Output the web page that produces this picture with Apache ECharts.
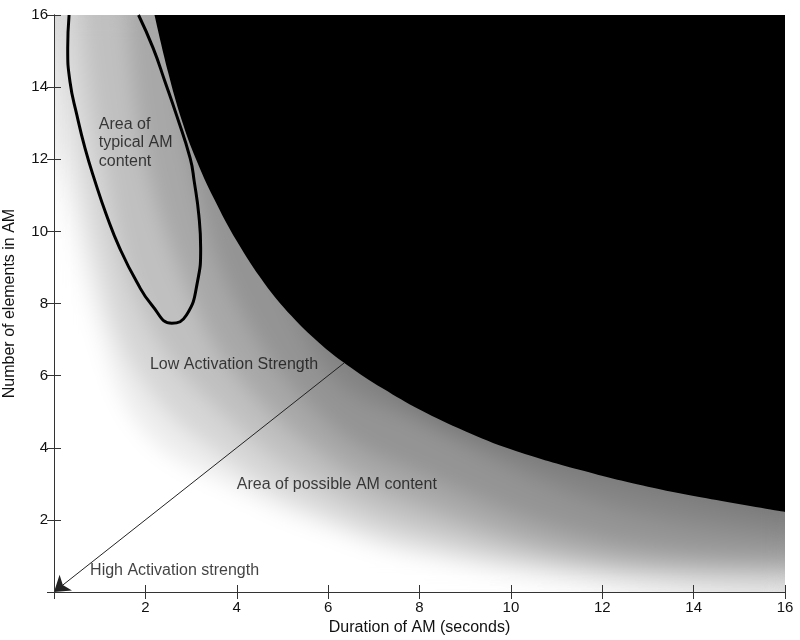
<!DOCTYPE html>
<html>
<head>
<meta charset="utf-8">
<script src="https://cdn.jsdelivr.net/npm/echarts@6/dist/echarts.min.js"></script>
<style>
  html, body { margin: 0; padding: 0; background: #fff; }
  #chart { width: 800px; height: 640px; }
</style>
</head>
<body>
<!-- blur, then push alpha back to 1 so the plot edge does not fade to white -->
<svg width="0" height="0" style="position:absolute">
  <defs>
    <filter id="soft" x="0" y="0" width="100%" height="100%" color-interpolation-filters="sRGB">
      <feGaussianBlur stdDeviation="10"/>
      <feComponentTransfer><feFuncA type="linear" slope="40" intercept="0"/></feComponentTransfer>
    </filter>
  </defs>
</svg>
<div id="chart"></div>
<script>
// iso-grey contours; each one is filled up to y = 16
const grey240 = [[0, 12.5], [0.1, 12], [1, 7.2], [2, 4.4], [4, 2.85], [6, 1.75], [8, 0.95], [12, 0.24], [16, 0.03]];
const grey220 = [[0, 16.3], [1, 9], [2, 5.75], [4, 3.5], [6, 2.15], [8, 1.3], [12, 0.45], [16, 0.2]];
const grey200 = [[0.6, 16], [1, 12.5], [2, 7.6], [4, 4.6], [6, 2.85], [8, 1.8], [12, 0.7], [16, 0.43]];
const grey180 = [[1.6, 16], [2, 12], [3, 8.2], [4, 6], [6, 3.7], [8, 2.45], [12, 1.0], [16, 0.69]];
const grey160 = [[2.6, 16], [3, 12], [4, 8], [6, 4.7], [8, 3.3], [12, 1.5], [16, 1.05]];
const grey140 = [[4.6, 10], [6, 6.1], [8, 4.7], [12, 2.45], [16, 1.6]];
const grey128 = [[6, 7.2], [8, 5.0], [10, 3.95], [12, 3.2], [16, 2.1]];

// edge of the black region
const blackEdge = [[2.2, 16], [2.5, 14.4], [2.8, 13.07], [3.1, 12.03], [3.5, 10.91], [4.0, 9.73],
  [4.6, 8.57], [5.2, 7.65], [5.8, 6.91], [6.4, 6.31], [7.2, 5.64], [8.0, 5.06], [9.0, 4.46],
  [10.0, 3.96], [11.5, 3.39], [13.0, 2.92], [14.5, 2.55], [16, 2.22]];

// "typical AM content" ellipse (clipped by the top of the plot)
const ellipse = [[0.33, 16], [0.30, 15.08], [0.35, 14.15], [0.50, 13.23], [0.68, 12.3], [0.90, 11.38],
  [1.15, 10.45], [1.44, 9.53], [1.81, 8.6], [2.14, 7.96], [2.58, 7.45], [2.90, 7.68], [3.14, 8.6],
  [3.21, 9.53], [3.17, 10.45], [3.07, 11.38], [2.98, 12.03], [2.68, 13.23], [2.43, 14.15],
  [2.17, 15.08], [1.85, 16]];

const arrowFrom = [6.35, 6.35];
const arrowTo = [0, 0];

const notes = [
  { text: "Area of\ntypical AM\ncontent", at: [0.98, 12.45] },
  { text: "Low Activation Strength", at: [2.1, 6.3] },
  { text: "Area of possible AM content", at: [4.0, 2.97] },
  { text: "High Activation strength", at: [0.79, 0.58] }
];

const FONT = "Liberation Sans";

const greyLayers = [
  [grey240, "#ededed"],
  [grey220, "#d6d6d6"],
  [grey200, "#c0c0c0"],
  [grey180, "#a8a8a8"],
  [grey160, "#949494"],
  [grey140, "#848484"],
  [grey128, "#787878"]
];

// bands live on zlevel 0, which gets blurred afterwards to turn them into a gradient
function band(data, color, zlevel) {
  return {
    type: "line",
    zlevel: zlevel,
    z: 1,
    data: data,
    smooth: 0.4,
    showSymbol: false,
    silent: true,
    lineStyle: { width: 0 },
    areaStyle: { origin: "end", color: color, opacity: 1 }
  };
}

const series = greyLayers.map(function (l) { return band(l[0], l[1], 0); });
series.push(band(blackEdge, "#000000", 1));

series.push({
  type: "line",
  zlevel: 1,
  z: 5,
  data: ellipse,
  smooth: 0.5,
  showSymbol: false,
  silent: true,
  lineStyle: { color: "#000", width: 3 },
  markLine: {
    zlevel: 1,
    z: 5,
    silent: true,
    symbol: ["none", "arrow"],
    symbolSize: 15,
    label: { show: false },
    lineStyle: { color: "#222", width: 1, type: "solid" },
    data: [[{ coord: arrowFrom }, { coord: arrowTo }]]
  }
});

series.push({
  type: "scatter",
  zlevel: 1,
  z: 6,
  symbolSize: 0,
  silent: true,
  itemStyle: { color: "transparent" },
  label: {
    show: true,
    position: "right",
    distance: 0,
    color: "#111",
    fontFamily: FONT,
    fontSize: 16,
    lineHeight: 18.5,
    formatter: function (p) { return p.data.name; }
  },
  labelLayout: { hideOverlap: false },
  data: notes.map(function (n) { return { name: n.text, value: n.at }; })
});

const axisLineStyle = { color: "#333", width: 1 };
const tickFont = { fontFamily: FONT, fontSize: 15, color: "#111" };

function frameAxis(pos) {
  return {
    type: "value", min: 0, max: 16, interval: 2, position: pos, zlevel: 1, z: 10,
    axisLine: { show: true, lineStyle: axisLineStyle },
    axisTick: { inside: true, length: 7, lineStyle: axisLineStyle },
    axisLabel: { show: false },
    splitLine: { show: false }
  };
}

const chart = echarts.init(document.getElementById("chart"));
chart.setOption({
  animation: false,
  backgroundColor: "transparent",
  grid: {
    left: 54, right: 15, top: 15, bottom: 48, outerBoundsMode: "none", containLabel: false,
    show: true, backgroundColor: "#fff", borderWidth: 0, zlevel: 0, z: 0
  },
  xAxis: [
    {
      type: "value", min: 0, max: 16, interval: 2, zlevel: 1, z: 10,
      name: "Duration of AM (seconds)", nameLocation: "middle", nameGap: 28,
      nameTextStyle: { fontFamily: FONT, fontSize: 16, color: "#111" },
      axisLine: { show: true, lineStyle: axisLineStyle },
      axisTick: { inside: true, length: 7, lineStyle: axisLineStyle },
      axisLabel: Object.assign({ margin: 8, formatter: function (v) { return v === 0 ? "" : v; } }, tickFont),
      splitLine: { show: false }
    },
    frameAxis("top")
  ],
  yAxis: [
    {
      type: "value", min: 0, max: 16, interval: 2, zlevel: 1, z: 10,
      name: "Number of elements in AM", nameLocation: "middle", nameGap: 36,
      nameTextStyle: { fontFamily: FONT, fontSize: 16, color: "#111" },
      axisLine: { show: true, lineStyle: axisLineStyle },
      axisTick: { inside: true, length: 7, lineStyle: axisLineStyle },
      axisLabel: Object.assign({ margin: 6, formatter: function (v) { return v === 0 ? "" : v; } }, tickFont),
      splitLine: { show: false }
    },
    frameAxis("right")
  ],
  // white margins on the sharp layer hide the blur halo outside the plot
  graphic: [
    { type: "rect", zlevel: 1, z: 0, silent: true, shape: { x: 0, y: 0, width: 54, height: 640 }, style: { fill: "#fff" } },
    { type: "rect", zlevel: 1, z: 0, silent: true, shape: { x: 785, y: 0, width: 15, height: 640 }, style: { fill: "#fff" } },
    { type: "rect", zlevel: 1, z: 0, silent: true, shape: { x: 0, y: 0, width: 800, height: 15 }, style: { fill: "#fff" } },
    { type: "rect", zlevel: 1, z: 0, silent: true, shape: { x: 0, y: 592, width: 800, height: 48 }, style: { fill: "#fff" } }
  ],
  series: series
});

const baseLayer = chart.getDom().querySelector('canvas[data-zr-dom-id="zr_0"]');
if (baseLayer) baseLayer.style.filter = "url(#soft)";
</script>
</body>
</html>
